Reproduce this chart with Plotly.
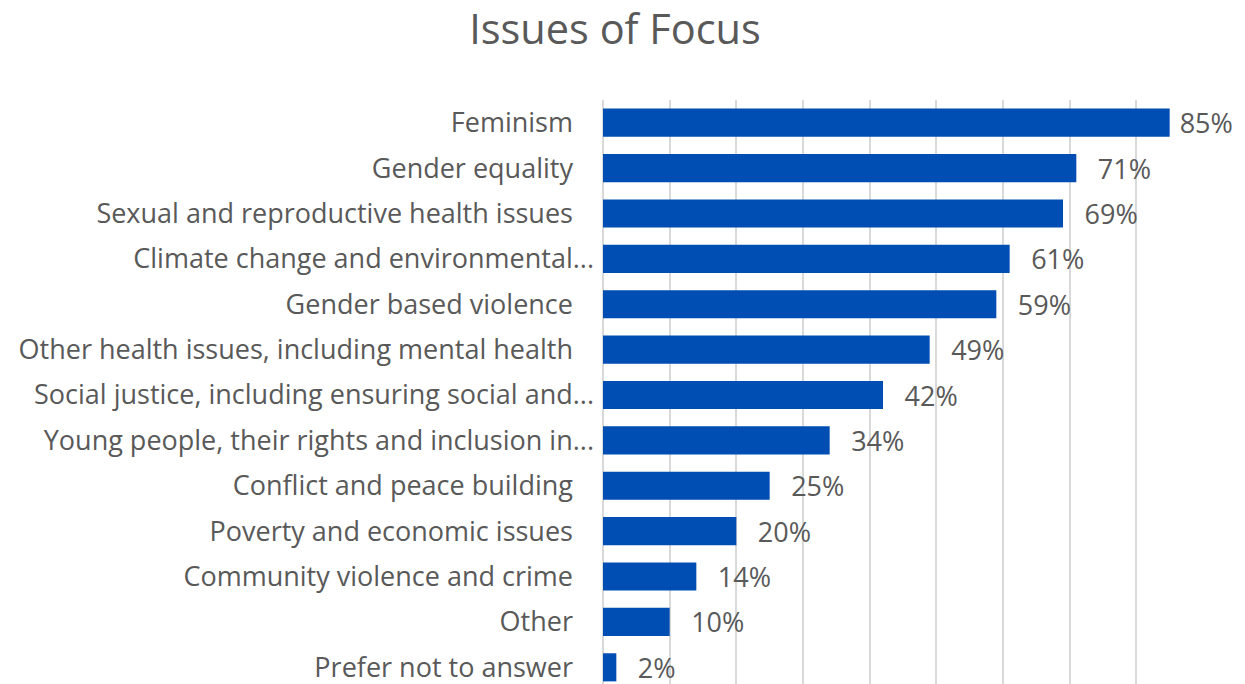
import plotly.graph_objects as go

# Survey: share of respondents focusing on each issue
issues = [
    "Feminism",
    "Gender equality",
    "Sexual and reproductive health issues",
    "Climate change and environmental...",
    "Gender based violence",
    "Other health issues, including mental health",
    "Social justice, including ensuring social and...",
    "Young people, their rights and inclusion in...",
    "Conflict and peace building",
    "Poverty and economic issues",
    "Community violence and crime",
    "Other",
    "Prefer not to answer",
]
shares = [0.85, 0.71, 0.69, 0.61, 0.59, 0.49, 0.42, 0.34, 0.25, 0.20, 0.14, 0.10, 0.02]

# Category labels that are not cut short carry a little trailing room
PAD = "\u00a0" * 3
tick_labels = [s if s.endswith("...") else s + PAD for s in issues]

# Value labels sit a little off the bar end; the longest bar's label is
# pulled in closer so it stays inside the chart area
top = max(shares)
value_labels = [
    ("\u00a0" if v == top else "\u00a0\u00a0\u2009") + f"{v:.0%}" for v in shares
]

FONT = "Open Sans"
GREY = "#595959"
BAR = "#004EB3"
GRID = "#D9D9D9"
LABEL_SIZE = 27

fig = go.Figure(
    go.Bar(
        x=shares,
        y=list(range(len(issues))),
        orientation="h",
        marker=dict(color=BAR, line=dict(width=0)),
        width=0.62,
        text=value_labels,
        textposition="outside",
        constraintext="none",
        cliponaxis=False,
        textfont=dict(family=FONT, size=LABEL_SIZE, color=GREY),
        hoverinfo="skip",
    )
)

fig.update_layout(
    width=1245,
    height=684,
    margin=dict(l=603, r=42, t=100, b=0),
    paper_bgcolor="white",
    plot_bgcolor="white",
    showlegend=False,
    title=dict(
        text="Issues of Focus",
        font=dict(family=FONT, size=41.5, color=GREY),
        xref="container",
        yref="container",
        x=615 / 1245,
        y=1 - 29 / 684,
        xanchor="center",
        yanchor="middle",
    ),
    xaxis=dict(
        range=[0, 0.9],
        dtick=0.1,
        showgrid=True,
        gridcolor=GRID,
        gridwidth=2,
        zeroline=True,
        zerolinecolor=GRID,
        zerolinewidth=2,
        showticklabels=False,
        showline=False,
        fixedrange=True,
    ),
    yaxis=dict(
        tickmode="array",
        tickvals=list(range(len(issues))),
        ticktext=tick_labels,
        # 45.3 px per category; the last row runs slightly past the lower edge
        range=[len(issues) - 0.5 - 6 / 45.33, -0.5],
        showgrid=False,
        zeroline=False,
        showline=False,
        ticks="",
        ticklabelstandoff=8,
        ticklabeloverflow="allow",
        tickfont=dict(family=FONT, size=LABEL_SIZE, color=GREY),
        fixedrange=True,
    ),
    bargap=0.38,
)

fig.write_html("out.html")
